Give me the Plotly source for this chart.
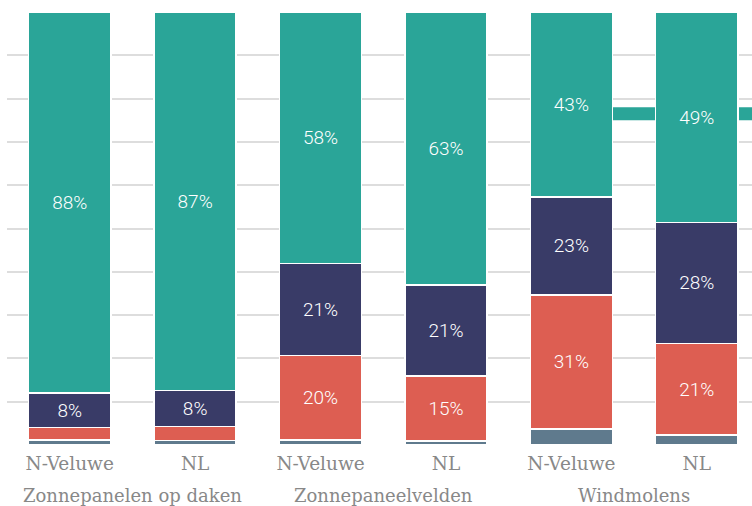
import plotly.graph_objects as go

groups = ["Zonnepanelen op daken", "Zonnepaneelvelden", "Windmolens"]
regions = ["N-Veluwe", "NL", "N-Veluwe", "NL", "N-Veluwe", "NL"]
positions = list(range(len(regions)))

s_slate = [1.2, 1.0, 1.1, 0.9, 3.7, 2.3]
s_red = [2.8, 3.3, 19.6, 15.0, 31.0, 21.2]
s_navy = [8.0, 8.3, 21.2, 21.0, 22.6, 27.9]
s_teal = [88.0, 87.4, 58.1, 63.1, 42.7, 48.6]

series = [
    ("Overig", s_slate, "#5f7a8d"),
    ("Rood", s_red, "#dd5e52"),
    ("Blauw", s_navy, "#393b67"),
    ("Groen", s_teal, "#2aa598"),
]

fig = go.Figure()
for name, vals, col in series:
    fig.add_trace(go.Bar(
        x=positions, y=vals, name=name,
        marker=dict(color=col, line=dict(color="white", width=1.5)),
        text=[f"{v:.0f}%" if v >= 5 else "" for v in vals],
        textposition="inside", insidetextanchor="middle",
        textfont=dict(family="Roboto", size=19, color="white", weight=300),
        hoverinfo="skip",
    ))

# teal marker segment behind the last group
fig.add_shape(type="rect", xref="x", yref="y", x0=4.3, x1=5.6, y0=75.0, y1=78.0,
              fillcolor="#2aa598", line=dict(width=0), layer="below")

for i, g in enumerate(groups):
    fig.add_annotation(x=2 * i + 0.5, y=0, xref="x", yref="paper", yshift=-50,
                       text=g, showarrow=False, yanchor="middle",
                       font=dict(family="DejaVu Serif", size=18, color="#888888"))

fig.update_layout(
    barmode="stack", bargap=0.345, showlegend=False,
    width=752, height=506,
    margin=dict(l=7, r=0, t=12, b=61),
    plot_bgcolor="white", paper_bgcolor="white",
)
fig.update_xaxes(
    range=[-0.5, 5.44], showgrid=False, zeroline=False, showline=False,
    tickvals=positions, ticktext=regions, automargin=False, ticklabelstandoff=5,
    ticks="", tickfont=dict(family="DejaVu Serif", size=18.5, color="#888888"),
)
fig.update_yaxes(
    range=[0, 100], dtick=10, showticklabels=False, gridcolor="#dddddd",
    gridwidth=1.5, zeroline=False, automargin=False,
)
fig.write_html("out.html", config={"displayModeBar": False},
               post_script="document.body.style.margin='0px';")
